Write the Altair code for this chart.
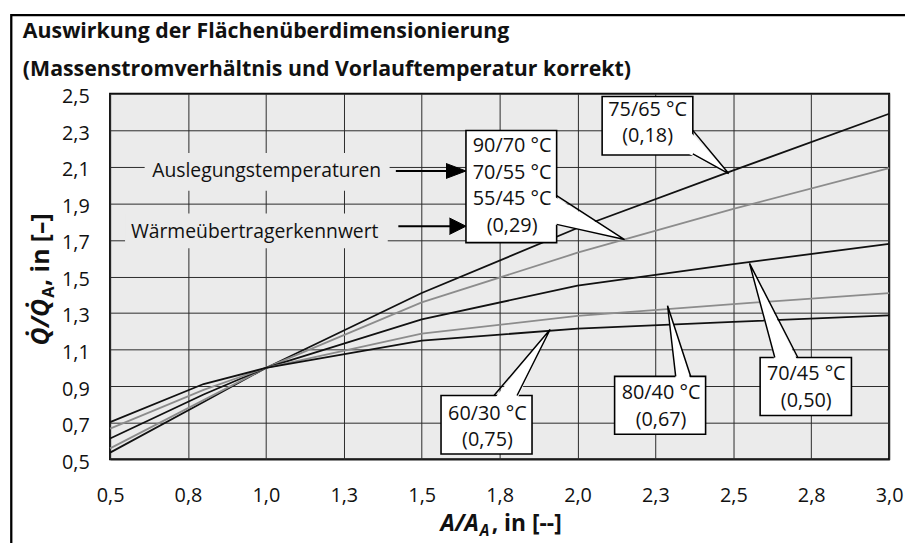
import json
import pandas as pd
import altair as alt

# ---------------- data ----------------
x_vals = [0.5, 0.8, 1.0, 1.5, 2.0, 2.5, 3.0]
series_names = ["75/65 °C (0,18)", "90/70 · 70/55 · 55/45 °C (0,29)",
                "70/45 °C (0,50)", "80/40 °C (0,67)", "60/30 °C (0,75)"]
series_colors = ["#111111", "#8c8c8c", "#111111", "#8c8c8c", "#111111"]
y_7565 = [0.537, 0.814, 1.0, 1.410, 1.765, 2.080, 2.390]
y_029 = [0.560, 0.824, 1.0, 1.358, 1.630, 1.870, 2.092]
y_7045 = [0.614, 0.855, 1.0, 1.266, 1.450, 1.568, 1.678]
y_8040 = [0.668, 0.880, 1.0, 1.187, 1.285, 1.349, 1.409]
y_6030 = [0.704, 0.912, 1.0, 1.149, 1.215, 1.252, 1.287]
series_values = [y_7565, y_029, y_7045, y_8040, y_6030]

x_ticks = [0.5, 0.75, 1.0, 1.25, 1.5, 1.75, 2.0, 2.25, 2.5, 2.75, 3.0]
x_tick_labels = ["0,5", "0,8", "1,0", "1,3", "1,5", "1,8", "2,0", "2,3", "2,5", "2,8", "3,0"]
y_ticks = [0.5, 0.7, 0.9, 1.1, 1.3, 1.5, 1.7, 1.9, 2.1, 2.3, 2.5]
y_tick_labels = ["0,5", "0,7", "0,9", "1,1", "1,3", "1,5", "1,7", "1,9", "2,1", "2,3", "2,5"]

title_lines = ["Auswirkung der Flächenüberdimensionierung",
               "(Massenstromverhältnis und Vorlauftemperatur korrekt)"]
x_title_parts = ["A/A", "A", ", in [--]"]
y_title_parts = ["Q\u0307/Q\u0307", "A", ", in [–]"]

# callout boxes (data units)
box_x1 = [2.079, 1.642, 1.562, 2.119, 2.586]
box_x2 = [2.370, 1.933, 1.854, 2.411, 2.879]
box_y1 = [2.164, 1.685, 0.529, 0.637, 0.740]
box_y2 = [2.484, 2.298, 0.849, 0.954, 1.057]
tail_side = ["right", "right", "top", "top", "top"]
tail_b1 = [(2.370, 2.299), (1.933, 1.942), (1.732, 0.849), (2.315, 0.954), (2.633, 1.057)]
tail_apex = [(2.485, 2.063), (2.151, 1.702), (1.912, 1.210), (2.289, 1.340), (2.552, 1.572)]
tail_b2 = [(2.370, 2.170), (1.933, 1.785), (1.806, 0.849), (2.363, 0.954), (2.707, 1.057)]
callout_text = ["75/65 °C", "(0,18)", "90/70 °C", "70/55 °C", "55/45 °C", "(0,29)",
                "60/30 °C", "(0,75)", "80/40 °C", "(0,67)", "70/45 °C", "(0,50)"]
callout_tx = [2.225, 2.225, 1.790, 1.790, 1.790, 1.790, 1.711, 1.711, 2.268, 2.268, 2.734, 2.734]
callout_ty = [2.412, 2.267, 2.213, 2.068, 1.924, 1.775, 0.746, 0.605, 0.863, 0.713, 0.966, 0.818]

# free annotations with arrows
ann_text = ["Auslegungstemperaturen", "Wärmeübertragerkennwert"]
ann_x = [1.0025, 0.964]
ann_y = [2.077, 1.745]
ann_bg_x1 = [0.611, 0.548]
ann_bg_x2 = [1.397, 1.391]
ann_bg_y1 = [1.969, 1.654]
ann_bg_y2 = [2.175, 1.844]
arrow_x1 = [1.417, 1.425]
arrow_x2 = [1.590, 1.600]
arrow_y = [2.077, 1.775]
arrow_tip_x = [1.642, 1.642]
arrow_back_x = [1.578, 1.589]
arrow_half = [0.041, 0.045]

# ---------------- tables ----------------
FONT = "Open Sans"
PLOT_BG = "#ebebeb"

rows = []
for name, vals in zip(series_names, series_values):
    for i, (xv, yv) in enumerate(zip(x_vals, vals)):
        rows.append({"x": xv, "y": yv, "series": name, "ord": i})
lines_df = pd.DataFrame(rows)

box_df = pd.DataFrame({"x": box_x1, "x2": box_x2, "y": box_y1, "y2": box_y2})

fill_rows, stroke_rows = [], []
for k, (side, b1, ap, b2) in enumerate(zip(tail_side, tail_b1, tail_apex, tail_b2)):
    if side == "right":
        b1i, b2i = (b1[0] - 0.012, b1[1]), (b2[0] - 0.012, b2[1])
    else:
        b1i, b2i = (b1[0], b1[1] - 0.02), (b2[0], b2[1] - 0.02)
    for j, p in enumerate([b1i, ap, b2i]):
        fill_rows.append({"x": p[0], "y": p[1], "poly": k, "ord": j})
    for j, p in enumerate([b1, ap, b2]):
        stroke_rows.append({"x": p[0], "y": p[1], "poly": k, "ord": j})
tail_fill_df = pd.DataFrame(fill_rows)
tail_stroke_df = pd.DataFrame(stroke_rows)

callout_df = pd.DataFrame({"x": callout_tx, "y": callout_ty, "t": callout_text})
ann_df = pd.DataFrame({"x": ann_x, "y": ann_y, "t": ann_text})
ann_bg_df = pd.DataFrame({"x": ann_bg_x1, "x2": ann_bg_x2, "y": ann_bg_y1, "y2": ann_bg_y2})
shaft_df = pd.DataFrame({"x": arrow_x1, "x2": arrow_x2, "y": arrow_y})
head_rows = []
for k in range(len(arrow_y)):
    pts = [(arrow_back_x[k], arrow_y[k] + arrow_half[k]), (arrow_tip_x[k], arrow_y[k]),
           (arrow_back_x[k], arrow_y[k] - arrow_half[k])]
    for j, p in enumerate(pts):
        head_rows.append({"x": p[0], "y": p[1], "poly": k, "ord": j})
head_df = pd.DataFrame(head_rows)
one = pd.DataFrame({"a": [0]})

# ---------------- scales & axes ----------------
def label_expr(vals, labels):
    return f"{json.dumps(labels, ensure_ascii=False)}[indexof({json.dumps(vals)}, datum.value)]"

xscale = alt.Scale(domain=[0.5, 3.0], nice=False, zero=False)
yscale = alt.Scale(domain=[0.5, 2.5], nice=False, zero=False)
x_axis = alt.Axis(values=x_ticks, labelExpr=label_expr(x_ticks, x_tick_labels), title=None,
                  ticks=False, domain=False, grid=True, gridColor="#2b2b2b", gridWidth=1,
                  labelFont=FONT, labelFontSize=20, labelColor="#111111", labelPadding=27,
                  labelOverlap=False, labelFlush=False)
y_axis = alt.Axis(values=y_ticks, labelExpr=label_expr(y_ticks, y_tick_labels), title=None,
                  ticks=False, domain=False, grid=True, gridColor="#2b2b2b", gridWidth=1,
                  labelFont=FONT, labelFontSize=20, labelColor="#111111", labelPadding=21,
                  labelOffset=3, labelOverlap=False, labelFlush=False)


def X():
    return alt.X("x:Q", scale=xscale, axis=x_axis)


def Y():
    return alt.Y("y:Q", scale=yscale, axis=y_axis)


# ---------------- layers ----------------
ann_bg = alt.Chart(ann_bg_df).mark_rect(fill=PLOT_BG, strokeWidth=0).encode(
    x=X(), x2="x2:Q", y=Y(), y2="y2:Q")

lines = alt.Chart(lines_df).mark_line(strokeWidth=1.8).encode(
    x=X(), y=Y(),
    color=alt.Color("series:N", scale=alt.Scale(domain=series_names, range=series_colors), legend=None),
    order="ord:Q")

boxes = alt.Chart(box_df).mark_rect(fill="white", stroke="black", strokeWidth=1.6).encode(
    x=X(), x2="x2:Q", y=Y(), y2="y2:Q")

tail_fill = alt.Chart(tail_fill_df).mark_line(fill="white", stroke="white", strokeWidth=0, strokeOpacity=0).encode(
    x=X(), y=Y(), detail="poly:N", order="ord:Q")

tail_stroke = alt.Chart(tail_stroke_df).mark_line(stroke="black", strokeWidth=1.5).encode(
    x=X(), y=Y(), detail="poly:N", order="ord:Q")

callout_txt = alt.Chart(callout_df).mark_text(font=FONT, fontSize=20, color="#111111",
                                              align="center", baseline="middle").encode(
    x=X(), y=Y(), text="t:N")

ann_txt = alt.Chart(ann_df).mark_text(font=FONT, fontSize=19.5, color="#111111",
                                      align="center", baseline="middle").encode(
    x=X(), y=Y(), text="t:N")

shafts = alt.Chart(shaft_df).mark_rule(color="black", strokeWidth=2).encode(
    x=X(), x2="x2:Q", y=Y())

heads = alt.Chart(head_df).mark_line(fill="black", stroke="black", strokeWidth=1).encode(
    x=X(), y=Y(), detail="poly:N", order="ord:Q")


def txt(s, x, y, size, weight="bold", style="normal", align="left", angle=0):
    return alt.Chart(one).mark_text(text=s, font=FONT, fontSize=size, fontWeight=weight,
                                    fontStyle=style, align=align, baseline="alphabetic",
                                    angle=angle, color="#111111").encode(
        x=alt.value(x), y=alt.value(y))


title1 = txt(title_lines[0], -88, -56, 21.5)
title2 = txt(title_lines[1], -88, -18, 21.5)

xt1 = txt(x_title_parts[0], 372, 441, 23, style="italic", align="right")
xt2 = txt(x_title_parts[1], 373, 446, 15.5, style="italic")
xt3 = txt(x_title_parts[2], 385, 441, 23)

yt1 = txt(y_title_parts[0], -62, 207, 25, style="italic", align="right", angle=270)
yt2 = txt(y_title_parts[1], -57, 206, 16.5, angle=270)
yt3 = txt(y_title_parts[2], -62, 194, 25, angle=270)

border = alt.Chart(one).mark_rect(fillOpacity=0, stroke="black", strokeWidth=2.3).encode(
    x=alt.value(-99.7), x2=alt.value(1000), y=alt.value(-79.2), y2=alt.value(1000))

chart = alt.layer(
    ann_bg, lines, boxes, tail_fill, tail_stroke, callout_txt, ann_txt, shafts, heads,
    title1, title2, xt1, xt2, xt3, yt1, yt2, yt3, border
).properties(
    width=786, height=369,
    padding={"left": 103, "top": 84, "right": 16, "bottom": 82},
    autosize=alt.AutoSizeParams(type="none"),
).configure_view(
    fill=PLOT_BG, stroke="black", strokeWidth=2
)

chart.save("out.html", embed_options={"renderer": "svg", "actions": False})
